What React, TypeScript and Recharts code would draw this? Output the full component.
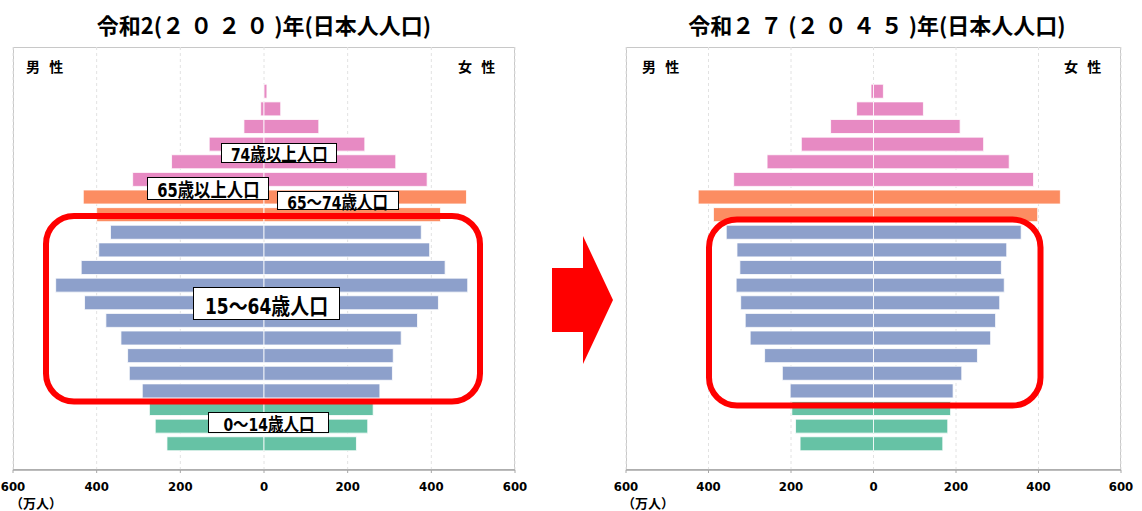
import { BarChart, Bar, XAxis, YAxis, CartesianGrid, Cell } from 'recharts';

const ageGroups = [
  '100+', '95-99', '90-94', '85-89', '80-84', '75-79', '70-74', '65-69',
  '60-64', '55-59', '50-54', '45-49', '40-44', '35-39', '30-34', '25-29',
  '20-24', '15-19', '10-14', '5-9', '0-4',
];

const ageBands = [
  '75+', '75+', '75+', '75+', '75+', '75+', '65-74', '65-74',
  '15-64', '15-64', '15-64', '15-64', '15-64', '15-64', '15-64', '15-64',
  '15-64', '15-64', '0-14', '0-14', '0-14',
];

// 万人
const male2020 = [1, 8, 48, 131, 221, 314, 432, 400, 367, 395, 437, 498, 429, 378, 342, 326, 322, 291, 274, 260, 232];
const female2020 = [7, 40, 131, 241, 315, 390, 484, 422, 376, 396, 433, 487, 417, 367, 328, 309, 307, 277, 261, 248, 221];
const male2045 = [6, 41, 104, 175, 258, 339, 425, 388, 357, 331, 324, 333, 322, 311, 299, 264, 221, 202, 198, 189, 178];
const female2045 = [24, 121, 210, 267, 329, 388, 453, 398, 358, 323, 310, 317, 306, 296, 284, 252, 214, 193, 187, 180, 168];

const xTicks = [-600, -400, -200, 0, 200, 400, 600];

const bandColors: Record<string, string> = {
  '75+': '#e78ac3',
  '65-74': '#fc8d62',
  '15-64': '#8da0cb',
  '0-14': '#66c2a5',
};

const condensed = "'DejaVu Sans Condensed', 'Noto Sans CJK JP', sans-serif";
const jp = "'Noto Sans CJK JP', sans-serif";

const buildRows = (male: number[], female: number[]) => {
  const rows = ageGroups.map((age, i) => ({ age, band: ageBands[i], male: -male[i], female: female[i] }));
  return [{ age: 'pad0' }, { age: 'pad1' }, ...rows, { age: 'pad2' }] as any[];
};

const Pyramid = ({ male, female, width, marginLeft, marginRight }: any) => {
  const rows = buildRows(male, female);
  return (
    <BarChart
      width={width}
      height={511}
      data={rows}
      layout="vertical"
      stackOffset="sign"
      barCategoryGap={2}
      margin={{ top: 47, left: marginLeft, right: marginRight, bottom: 11 }}
    >
      <CartesianGrid horizontal={false} strokeDasharray="3 3" stroke="#e2e2e2" />
      <XAxis
        type="number"
        domain={[-600, 600]}
        ticks={xTicks}
        tickFormatter={(v: number) => String(Math.abs(v))}
        height={30}
        tickSize={3}
        tickMargin={9}
        axisLine={{ stroke: '#a6a6a6', strokeWidth: 1.5 }}
        tickLine={{ stroke: '#a6a6a6' }}
        tick={{ fill: '#000', fontSize: 13, fontWeight: 'bold', fontFamily: condensed }}
      />
      <YAxis
        type="category"
        dataKey="age"
        width={0}
        tick={false}
        tickSize={3}
        axisLine={{ stroke: '#a6a6a6', strokeWidth: 1.5 }}
        tickLine={{ stroke: '#a6a6a6' }}
        interval={0}
      />
      <Bar dataKey="male" stackId="a" stroke="#ffffff" strokeWidth={0.8} isAnimationActive={false}>
        {rows.map((r, i) => (
          <Cell key={i} fill={r.band ? bandColors[r.band] : 'none'} />
        ))}
      </Bar>
      <Bar dataKey="female" stackId="a" stroke="#ffffff" strokeWidth={0.8} isAnimationActive={false}>
        {rows.map((r, i) => (
          <Cell key={i} fill={r.band ? bandColors[r.band] : 'none'} />
        ))}
      </Bar>
    </BarChart>
  );
};

const NoteBox = ({ text, left, top, width, height, fontSize }: any) => (
  <div
    style={{
      position: 'absolute', left, top, width, height, boxSizing: 'border-box',
      border: '1px solid #000', background: '#fff', display: 'flex',
      alignItems: 'center', justifyContent: 'center', fontFamily: condensed,
      fontWeight: 'bold', fontSize, color: '#000', whiteSpace: 'nowrap',
    }}
  >
    <span style={{ display: 'inline-block', transform: 'scaleX(0.86)' }}>{text}</span>
  </div>
);

const Label = ({ text, left, top, size = 14, spacing = 1 }: any) => (
  <div style={{ position: 'absolute', left, top, fontFamily: jp, fontWeight: 'bold', fontSize: size, color: '#000', whiteSpace: 'pre', lineHeight: '16px', letterSpacing: spacing }}>
    {text}
  </div>
);

const Digits = ({ text }: any) => <span style={{ letterSpacing: 6 }}>{text}</span>;

const titleStyle: any = {
  position: 'absolute', top: 9, textAlign: 'center', fontFamily: jp,
  fontWeight: 'bold', fontSize: 22, lineHeight: '30px', whiteSpace: 'nowrap',
};

export default function App() {
  return (
    <div style={{ position: 'absolute', left: 0, top: 0, width: 1142, height: 511, background: '#fff', overflow: 'hidden' }}>
      {/* plot frames */}
      <div style={{ position: 'absolute', left: 13, top: 47, width: 502, height: 423, border: '1.5px solid #c8c8c8', boxSizing: 'border-box' }} />
      <div style={{ position: 'absolute', left: 626, top: 47, width: 495, height: 423, border: '1.5px solid #c8c8c8', boxSizing: 'border-box' }} />

      <div style={{ position: 'absolute', left: 0, top: 0 }}>
        <Pyramid male={male2020} female={female2020} width={530} marginLeft={13} marginRight={15} />
      </div>
      <div style={{ position: 'absolute', left: 610, top: 0 }}>
        <Pyramid male={male2045} female={female2045} width={532} marginLeft={16} marginRight={21} />
      </div>

      <div style={{ ...titleStyle, left: 0, width: 528 }}>
        令和2(<Digits text="２０２０" />)年(日本人人口)
      </div>
      <div style={{ ...titleStyle, left: 610, width: 534 }}>
        令和<Digits text="２７" />(<Digits text="２０４５" />)年(日本人人口)
      </div>

      <Label text="男  性" left={26} top={58} />
      <Label text="女  性" left={458} top={58} />
      <Label text="男  性" left={642} top={58} />
      <Label text="女  性" left={1064} top={58} />
      <Label text="（万人）" left={10} top={495} size={13} spacing={0} />
      <Label text="（万人）" left={622} top={495} size={13} spacing={0} />

      <svg width={1142} height={511} style={{ position: 'absolute', left: 0, top: 0, pointerEvents: 'none' }}>
        <rect x={46} y={216} width={434} height={185.5} rx={28} fill="none" stroke="#ff0000" strokeWidth={6} />
        <rect x={709} y={219.5} width={331.5} height={186} rx={28} fill="none" stroke="#ff0000" strokeWidth={6} />
        <polygon points="552,268 583,268 583,236 613,300 583,364 583,332 552,332" fill="#ff0000" />
      </svg>

      <NoteBox text="74歳以上人口" left={221} top={143} width={116} height={20} fontSize={18} />
      <NoteBox text="65歳以上人口" left={147} top={177} width={122} height={23} fontSize={19} />
      <NoteBox text="65～74歳人口" left={277} top={191} width={122} height={19} fontSize={18} />
      <NoteBox text="15～64歳人口" left={193} top={287} width={147} height={33} fontSize={22} />
      <NoteBox text="0～14歳人口" left={208} top={412} width={121} height={21} fontSize={18} />
    </div>
  );
}
